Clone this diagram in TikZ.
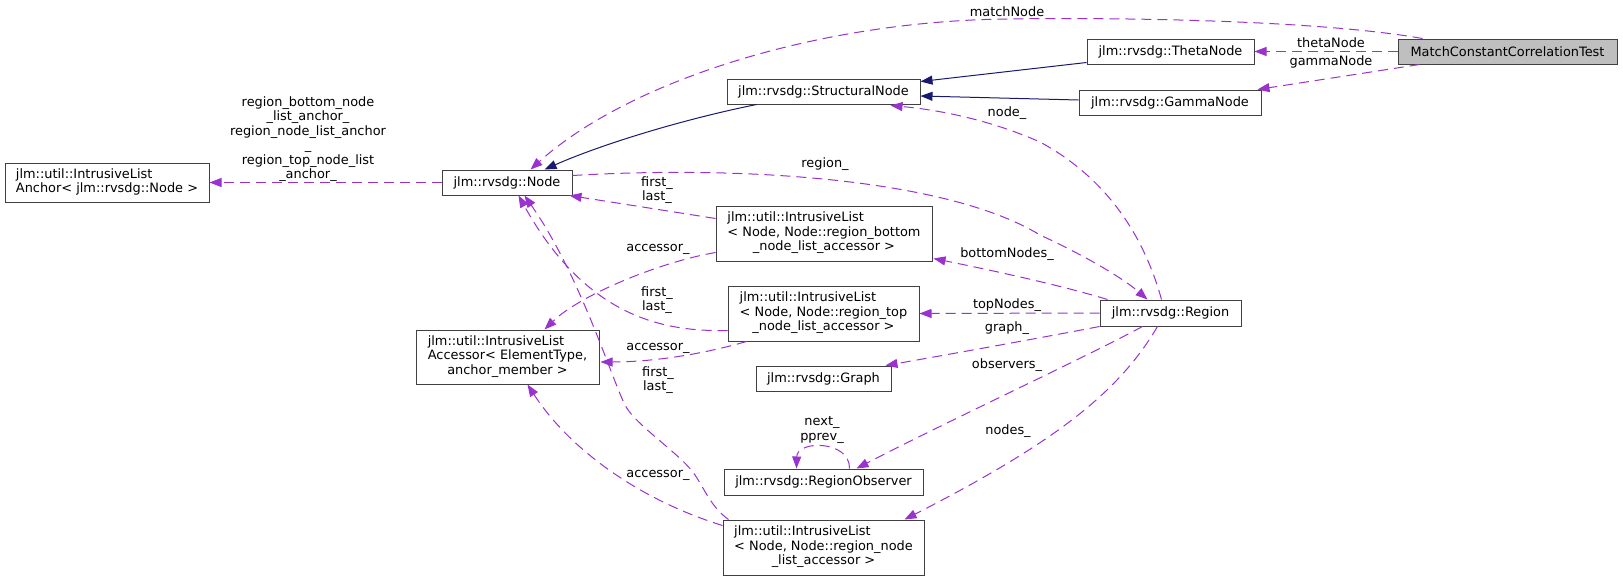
\documentclass[tikz,border=0pt]{standalone}
\usepackage{fontspec}
\setmainfont{DejaVu Sans}
\usetikzlibrary{arrows.meta,calc}
\definecolor{mblue}{HTML}{191970}
\definecolor{orchid}{HTML}{9A32CD}
\definecolor{bord}{HTML}{404040}
\definecolor{hl}{HTML}{BFBFBF}
\newcommand\dxf{\fontsize{12.9}{14.5}\selectfont}
\begin{document}
\begin{tikzpicture}[x=1pt,y=-1pt,
 cls/.style={draw=bord, line width=1pt, inner sep=0pt, font=\dxf, minimum height=25pt},
 inh/.style={draw=mblue, line width=1pt, -{Triangle[length=12pt,width=9pt]}},
 use/.style={draw=orchid, line width=1pt, dash pattern=on 10pt off 6pt, -{Triangle[length=12pt,width=9pt]}},
 elab/.style={font=\dxf, align=center, inner sep=0pt, text=black},
]
\useasboundingbox (0,0) rectangle (1623,581);

% classes
\node[cls, fill=hl, minimum width=219pt] (mct) at (1507.5,51.5) {MatchConstantCorrelationTest};
\node[cls, minimum width=167pt] (theta) at (1170.5,51.5) {jlm::rvsdg::ThetaNode};
\node[cls, minimum width=182pt] (gamma) at (1170,102.5) {jlm::rvsdg::GammaNode};
\node[cls, minimum width=193pt] (struct) at (823.5,91.5) {jlm::rvsdg::StructuralNode};
\node[cls, minimum width=130pt] (node) at (507,182.5) {jlm::rvsdg::Node};
\node[cls, minimum width=204pt, minimum height=39pt] (anchor) at (107,182.5)
  {\begin{tabular}{@{}l@{}}jlm::util::IntrusiveList\\Anchor< jlm::rvsdg::Node >\end{tabular}};
\node[cls, minimum width=216pt, minimum height=55pt] (bottom) at (824,233.5)
  {\begin{tabular}{@{}l@{}}jlm::util::IntrusiveList\\< Node, Node::region\_bottom\\\multicolumn{1}{@{}c@{}}{\_node\_list\_accessor >}\end{tabular}};
\node[cls, minimum width=191pt, minimum height=55pt] (top) at (823.5,313.5)
  {\begin{tabular}{@{}l@{}}jlm::util::IntrusiveList\\< Node, Node::region\_top\\\multicolumn{1}{@{}c@{}}{\_node\_list\_accessor >}\end{tabular}};
\node[cls, minimum width=183pt, minimum height=54pt] (acc) at (507.5,357)
  {\begin{tabular}{@{}l@{}}jlm::util::IntrusiveList\\Accessor< ElementType,\\\multicolumn{1}{@{}c@{}}{anchor\_member >}\end{tabular}};
\node[cls, minimum width=135pt] (graph) at (823.5,378.5) {jlm::rvsdg::Graph};
\node[cls, minimum width=141pt, minimum height=26pt] (region) at (1170.5,313) {jlm::rvsdg::Region};
\node[cls, minimum width=199pt, minimum height=26pt] (obs) at (823.5,482) {jlm::rvsdg::RegionObserver};
\node[cls, minimum width=201pt, minimum height=55pt] (nlist) at (823.5,547.5)
  {\begin{tabular}{@{}l@{}}jlm::util::IntrusiveList\\< Node, Node::region\_node\\\multicolumn{1}{@{}c@{}}{\_list\_accessor >}\end{tabular}};

% inheritance
\draw[inh] ($(theta.south west)+(0,-2)$) -- ($(struct.north east)+(0,3)$);
\draw[inh] ($(gamma.west)+(0,-2.5)$) -- ($(struct.east)+(0,4.5)$);
\draw[inh] ($(struct.south west)+(30,0)$) .. controls (680,120) and (600,145) .. ($(node.north west)+(103,0)$);

% usage
\draw[use] ($(mct.north west)+(25,0)$) .. controls (1330,22) and (1150,17) .. (1007,19)
  .. controls (820,21) and (630,80) .. ($(node.north west)+(89,0)$);
\draw[use] (mct.west) -- (theta.east);
\draw[use] ($(mct.south west)+(22,0)$) -- ($(gamma.north east)+(-4,0)$);
\draw[use] (node.west) -- (anchor.east);
\draw[use] ($(region.north west)+(62,0)$) .. controls (1145,240) and (1110,180) .. (1040,142)
  .. controls (990,120) and (940,110) .. ($(struct.south east)+(-30,1)$);
\draw[use] ($(node.east)+(0,-7)$) .. controls (750,165) and (950,180) .. (1040,235)
  .. controls (1090,258) and (1125,280) .. ($(region.north west)+(48,0)$);
\draw[use] ($(bottom.north west)+(0,13)$) -- ($(node.south east)+(-3,0)$);
\draw[use] ($(bottom.south west)+(0,-9)$) .. controls (660,262) and (580,295) .. ($(acc.north west)+(129,0)$);
\draw[use] ($(top.north west)+(0,45)$) .. controls (660,332) and (585,315) .. ($(node.south west)+(77,0)$);
\draw[use] ($(top.south west)+(19,0)$) .. controls (700,355) and (650,362) .. ($(acc.east)+(1,5)$);
\draw[use] ($(nlist.north west)+(0,6)$) .. controls (640,500) and (570,450) .. ($(acc.south west)+(112,0)$);
\draw[use] ($(nlist.north west)+(6,0)$) .. controls (712,508) and (705,490) .. (695,475)
  .. controls (681,454) and (635,425) .. (625,405)
  .. controls (611,377) and (580,275) .. ($(node.south west)+(83,0)$);
\draw[use] ($(region.north west)+(8,0)$) .. controls (1060,285) and (990,270) .. ($(bottom.south east)+(1,-3)$);
\draw[use] (region.west) -- (top.east);
\draw[use] (region.south west) .. controls (1040,338) and (940,356) .. ($(graph.north east)+(-6,0)$);
\draw[use] ($(region.south west)+(43,0)$) .. controls (1080,360) and (950,420) .. ($(obs.north west)+(133,0)$);
\draw[use] ($(region.south west)+(58,0)$) .. controls (1120,390) and (1060,440) .. ($(nlist.north west)+(182,0)$);
\draw[use] ($(obs.north west)+(126,0)$) .. controls (850,440) and (797,440) .. ($(obs.north west)+(73,0)$);

% labels
\node[elab] (l1) at (1007,12) {matchNode};
\node[elab] (l2) at (1331,43) {thetaNode};
\node[elab] (l3) at (1331,62) {gammaNode};
\node[elab] (l4) at (308,139) {region\_bottom\_node\\\_list\_anchor\_\\region\_node\_list\_anchor\\\_\\region\_top\_node\_list\\\_anchor\_};
\node[elab] (l5) at (1007,113) {node\_};
\node[elab] (l6) at (825,164) {region\_};
\node[elab] (l7) at (657,190) {first\_\\last\_};
\node[elab] (l8) at (658,249) {accessor\_};
\node[elab] (l9) at (1007,254) {bottomNodes\_};
\node[elab] (l10) at (657,300) {first\_\\last\_};
\node[elab] (l11) at (1007,305) {topNodes\_};
\node[elab] (l12) at (1007,328) {graph\_};
\node[elab] (l13) at (658,348) {accessor\_};
\node[elab] (l14) at (1007,365) {observers\_};
\node[elab] (l15) at (658,380) {first\_\\last\_};
\node[elab] (l16) at (822,430) {next\_\\pprev\_};
\node[elab] (l17) at (1008,431) {nodes\_};
\node[elab] (l18) at (658,475) {accessor\_};
\end{tikzpicture}
\end{document}
